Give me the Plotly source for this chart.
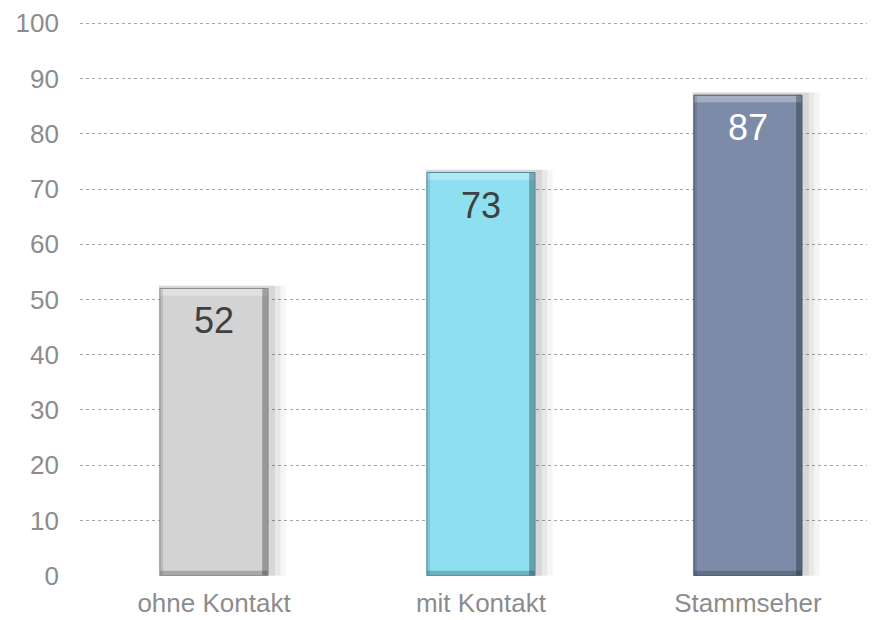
import plotly.graph_objects as go

categories = ["ohne Kontakt", "mit Kontakt", "Stammseher"]
values = [52, 73, 87]
bar_colors = ["#d3d3d3", "#8edff0", "#7b8ba8"]
edge_colors = ["#8c8c8c", "#4f8e9c", "#4a5670"]
label_colors = ["#404040", "#404040", "#ffffff"]
y_ticks = [0, 10, 20, 30, 40, 50, 60, 70, 80, 90, 100]

FONT = "Liberation Sans, Arial, sans-serif"
W = 0.405
BEVEL = 1.3  # bevel depth in data units

fig = go.Figure()

# soft, blurred shadow behind bars (several translucent layers)
for extra, alpha in [(0.07, 0.04), (0.05, 0.05), (0.03, 0.07)]:
    fig.add_trace(go.Bar(
        x=categories, y=[v + 0.5 for v in values], width=W + extra,
        offset=-W / 2 - 0.004,
        marker=dict(color=f"rgba(0,0,0,{alpha})", line=dict(width=0)),
        hoverinfo="skip", showlegend=False,
    ))

# main bars
fig.add_trace(go.Bar(
    x=categories, y=values, width=W,
    marker=dict(color=bar_colors, line=dict(width=0)),
    showlegend=False,
))

# bevel: light top strip
fig.add_trace(go.Bar(
    x=categories, y=[BEVEL] * len(values), base=[v - BEVEL for v in values],
    width=W, marker=dict(color="rgba(255,255,255,0.3)", line=dict(width=0)),
    hoverinfo="skip", showlegend=False,
))
# bevel: dark right strip
fig.add_trace(go.Bar(
    x=categories, y=values, width=0.022, offset=W / 2 - 0.022,
    marker=dict(color="rgba(0,0,0,0.28)", line=dict(width=0)),
    hoverinfo="skip", showlegend=False,
))
# bevel: darker left strip
fig.add_trace(go.Bar(
    x=categories, y=values, width=0.012, offset=-W / 2,
    marker=dict(color="rgba(0,0,0,0.1)", line=dict(width=0)),
    hoverinfo="skip", showlegend=False,
))
# bevel: dark bottom strip
fig.add_trace(go.Bar(
    x=categories, y=[0.9] * len(values), base=[0] * len(values),
    width=W, marker=dict(color="rgba(0,0,0,0.2)", line=dict(width=0)),
    hoverinfo="skip", showlegend=False,
))
# thin outline
fig.add_trace(go.Bar(
    x=categories, y=values, width=W,
    marker=dict(color="rgba(0,0,0,0)", line=dict(color=edge_colors, width=1)),
    hoverinfo="skip", showlegend=False,
))

for c, v, col in zip(categories, values, label_colors):
    fig.add_annotation(
        x=c, y=v, text=str(v), showarrow=False,
        yanchor="top", yshift=-10,
        font=dict(family=FONT, size=36, color=col),
    )

fig.update_layout(
    width=875, height=612,
    margin=dict(l=72, r=0, t=10, b=44),
    paper_bgcolor="white", plot_bgcolor="white",
    barmode="overlay",
    font=dict(family=FONT, size=26, color="#8c8c8c"),
    xaxis=dict(
        range=[-0.502, 2.506], showgrid=False, zeroline=False, showline=False,
        ticks="", ticklabelstandoff=9,
        tickfont=dict(size=26, color="#8c8c8c"),
    ),
    yaxis=dict(
        range=[-0.06, 100.25], tickvals=y_ticks, showgrid=True,
        gridcolor="#a6a6a6", griddash="dot", gridwidth=1,
        zeroline=False, showline=False, ticks="",
        ticklabelstandoff=20, ticklabeloverflow="allow",
        tickfont=dict(size=26, color="#8c8c8c"),
    ),
)

fig.write_html("out.html")
